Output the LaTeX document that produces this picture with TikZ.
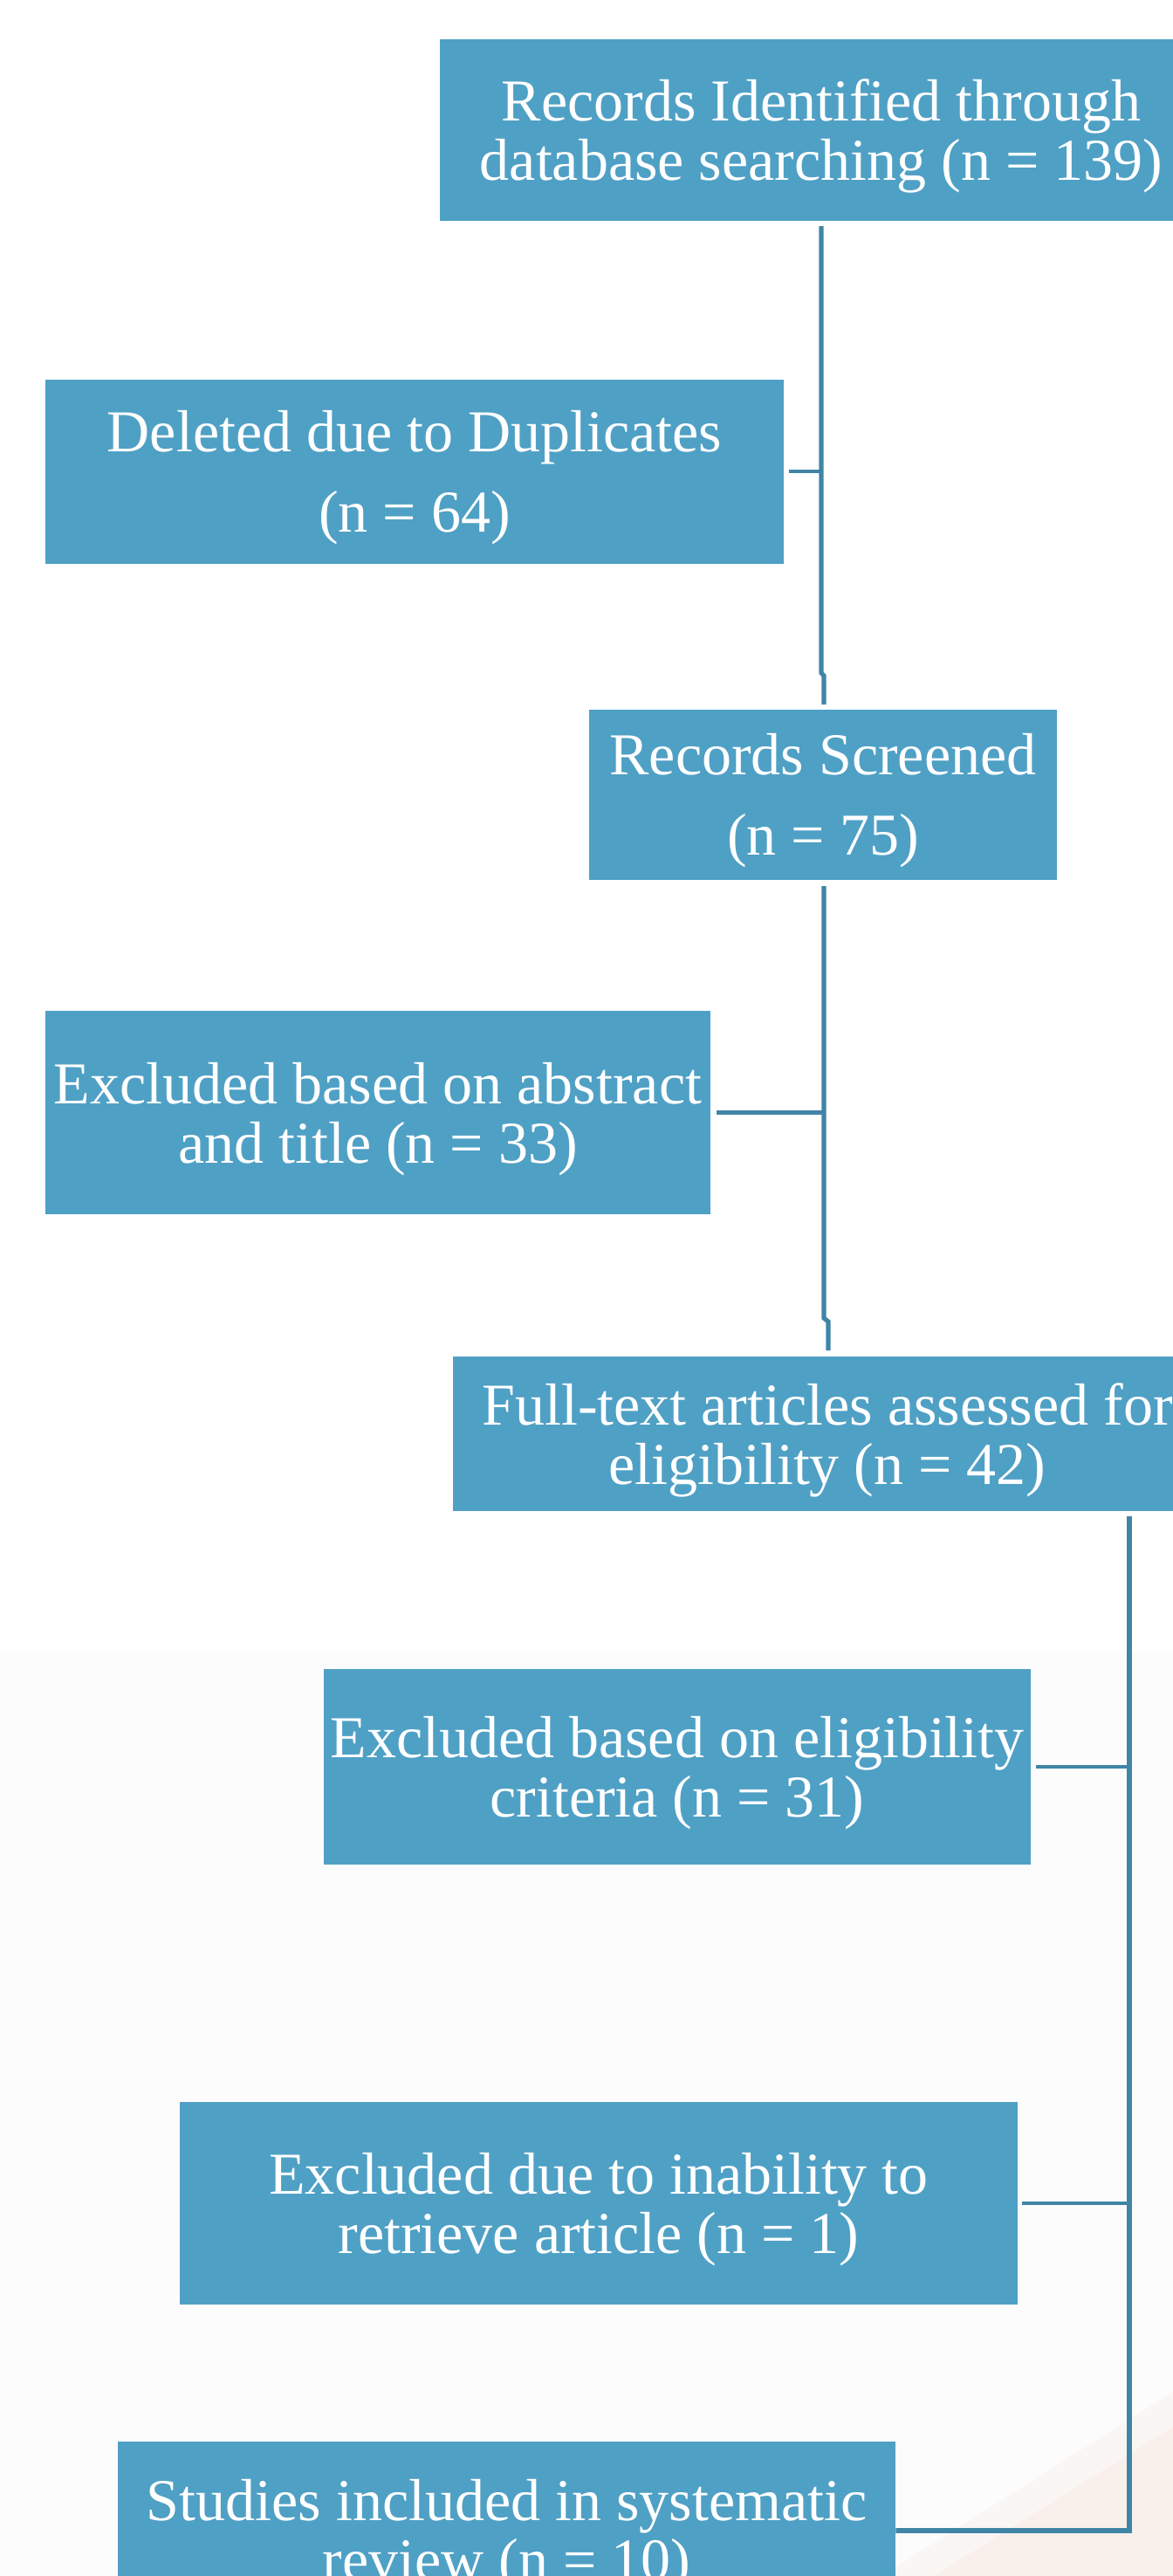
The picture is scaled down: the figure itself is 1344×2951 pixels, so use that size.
\documentclass[tikz,border=0pt]{standalone}
\usepackage{fontspec}
\setmainfont{Liberation Serif}
\definecolor{boxblue}{RGB}{79,160,197}
\definecolor{linkblue}{RGB}{64,133,166}
\definecolor{bggray}{RGB}{252,252,252}
\definecolor{peach}{RGB}{249,236,230}
\tikzset{
  flowbox/.style={rectangle, fill=boxblue, draw=none, inner sep=0pt},
  boxtext/.style={text=white, align=center, inner sep=0pt, yshift=-3.6pt,
    font=\fontsize{34}{34}\selectfont},
  widetext/.style={boxtext, font=\fontsize{34}{46}\selectfont},
  link/.style={draw=linkblue, line width=2.6pt},
}
\begin{document}
\begin{tikzpicture}[x=0.5pt,y=-0.5pt]
\useasboundingbox (0,0) rectangle (1344,2951);
\clip (0,0) rectangle (1344,2951);
\fill[white] (0,0) rectangle (1344,1892);
\fill[bggray] (0,1892) rectangle (1344,2951);
\fill[peach, opacity=0.7] (1070,2951) -- (1344,2780) -- (1344,2951) -- cycle;
\fill[peach, opacity=0.35] (1010,2951) -- (1344,2740) -- (1344,2780) -- (1070,2951) -- cycle;

% boxes
\node[flowbox, minimum width=437pt, minimum height=104pt,
  label={[boxtext]center:{Records Identified through\\database searching (n = 139)}}] (b1) at (941,149) {};
\node[flowbox, minimum width=423pt, minimum height=105.5pt,
  label={[widetext]center:{Deleted due to Duplicates\\(n = 64)}}] (del) at (475,540) {};
\node[flowbox, minimum width=268pt, minimum height=97.5pt,
  label={[widetext]center:{Records Screened\\(n = 75)}}] (scr) at (943,910) {};
\node[flowbox, minimum width=381pt, minimum height=116.5pt,
  label={[boxtext]center:{Excluded based on abstract\\and title (n = 33)}}] (abs) at (433,1274.5) {};
\node[flowbox, minimum width=429pt, minimum height=88.5pt,
  label={[boxtext]center:{Full-text articles assessed for\\eligibility (n = 42)}}] (ft) at (948,1642.5) {};
\node[flowbox, minimum width=405pt, minimum height=112pt,
  label={[boxtext]center:{Excluded based on eligibility\\criteria (n = 31)}}] (elig) at (776,2024) {};
\node[flowbox, minimum width=480pt, minimum height=116pt,
  label={[boxtext]center:{Excluded due to inability to\\retrieve article (n = 1)}}] (inab) at (686,2524) {};
\node[flowbox, minimum width=445.5pt, minimum height=230pt, anchor=north] (stud) at (580.5,2797) {};
\node[boxtext] (studt) at (580.5,2897.5)
  {Studies included in systematic\\review (n = 10)};

% coordinates for the trunks
\coordinate (t1a) at (941,259);
\coordinate (t1b) at (941,771);
\coordinate (t1c) at (944,774);
\coordinate (t1d) at (944,807);
\coordinate (t2a) at (944,1015);
\coordinate (t2b) at (944,1510);
\coordinate (t2c) at (949,1514);
\coordinate (t2d) at (949,1547);
\coordinate (t3a) at (1294,1737);
\coordinate (t3b) at (1294,2899);

% connectors
\draw[link] (t1a) -- (t1b) -- (t1c) -- (t1d);
\draw[link, line width=2.2pt] ([xshift=3pt]del.east) -- (del.east -| t1a);
\draw[link] (t2a) -- (t2b) -- (t2c) -- (t2d);
\draw[link, line width=2.2pt] ([xshift=3.5pt]abs.east) -- (abs.east -| t2a);
\draw[link] (t3a) -- (t3b) -- (t3b -| stud.east) -- ++(3.5,0);
\draw[link, line width=2.2pt] ([xshift=3pt]elig.east) -- (elig.east -| t3a);
\draw[link, line width=2.2pt] ([xshift=2.5pt]inab.east) -- (inab.east -| t3a);
\end{tikzpicture}
\end{document}
